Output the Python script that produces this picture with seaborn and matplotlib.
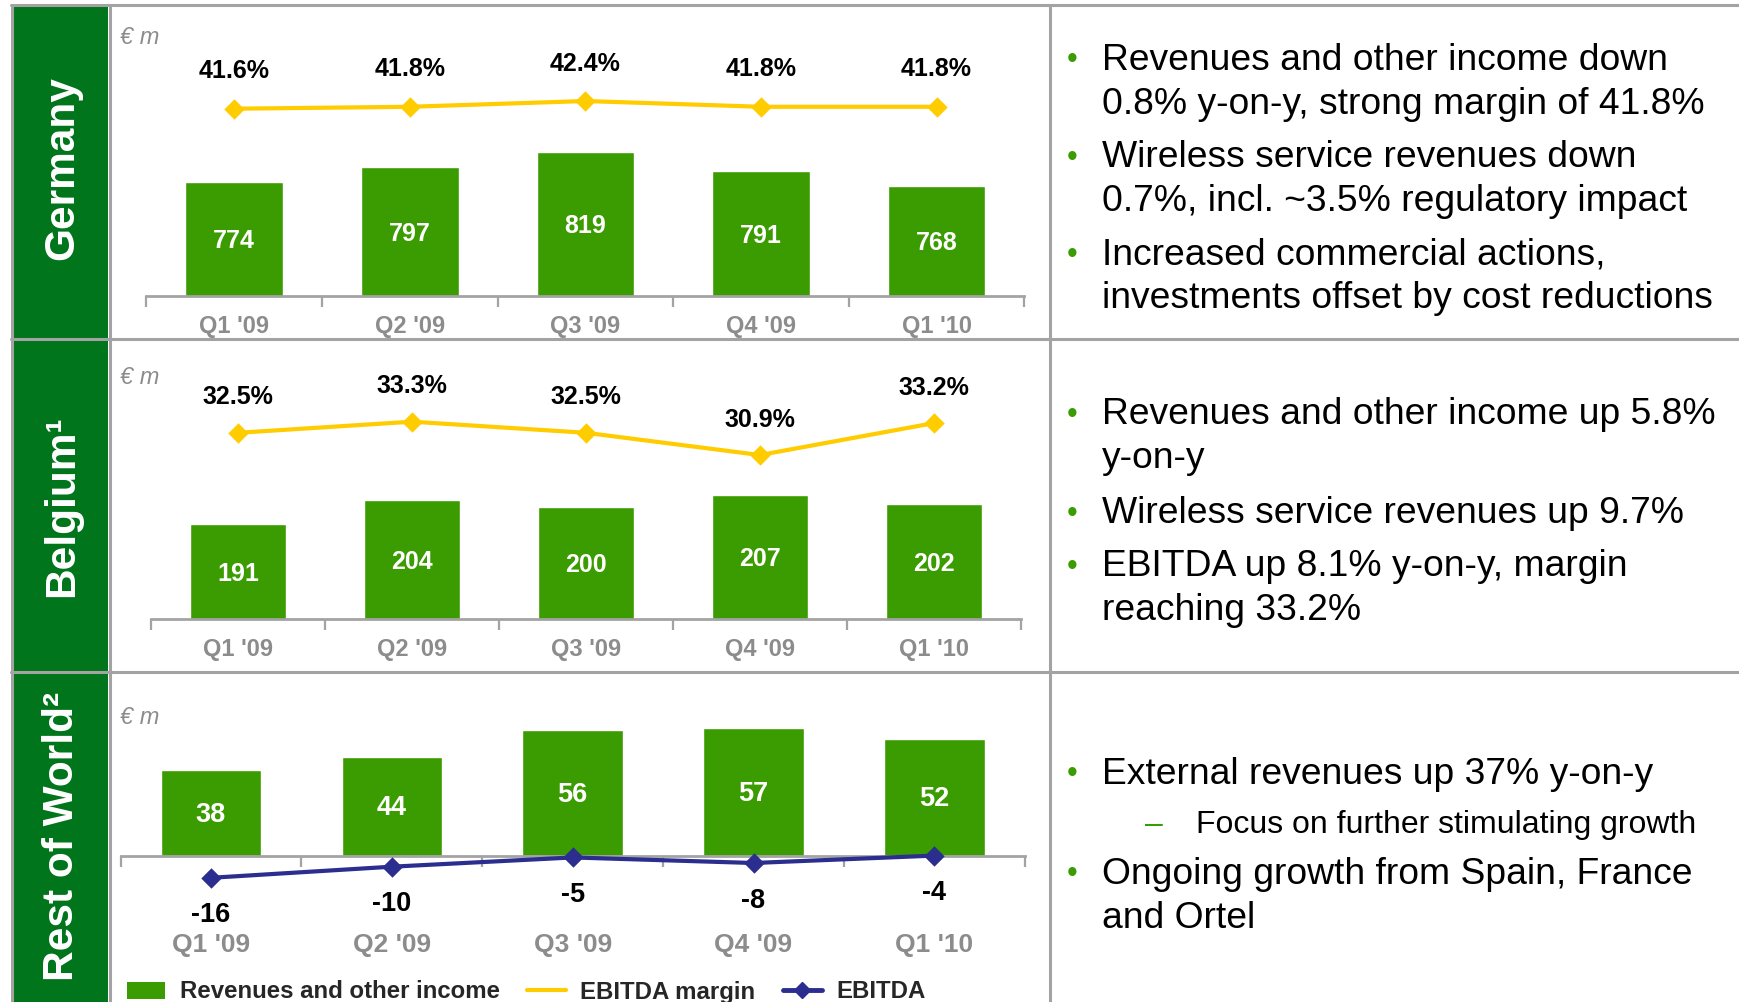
import numpy as np
import matplotlib
matplotlib.use("Agg")
import matplotlib.pyplot as plt
from matplotlib.lines import Line2D
from matplotlib.patches import Patch, Rectangle
import seaborn as sns

# ---- data -------------------------------------------------------------
quarters = ["Q1 '09", "Q2 '09", "Q3 '09", "Q4 '09", "Q1 '10"]

germany_revenue = [774, 797, 819, 791, 768]
germany_margin = [41.6, 41.8, 42.4, 41.8, 41.8]

belgium_revenue = [191, 204, 200, 207, 202]
belgium_margin = [32.5, 33.3, 32.5, 30.9, 33.2]

row_revenue = [38, 44, 56, 57, 52]
row_ebitda = [-16, -10, -5, -8, -4]

region_labels = ["Germany", "Belgium\u00b9", "Rest of World\u00b2"]
legend_labels = ["Revenues and other income", "EBITDA margin", "EBITDA"]
unit_label = "\u20ac m"

germany_notes = [
    "Revenues and other income down\n0.8% y-on-y, strong margin of 41.8%",
    "Wireless service revenues down\n0.7%, incl. ~3.5% regulatory impact",
    "Increased commercial actions,\ninvestments offset by cost reductions",
]
belgium_notes = [
    "Revenues and other income up 5.8%\ny-on-y",
    "Wireless service revenues up 9.7%",
    "EBITDA up 8.1% y-on-y, margin\nreaching 33.2%",
]
row_notes = [
    "External revenues up 37% y-on-y",
    "Ongoing growth from Spain, France\nand Ortel",
]
row_subnote = "Focus on further stimulating growth"

# ---- style ------------------------------------------------------------
DARK_GREEN = "#00751B"
BAR_GREEN = "#3A9C00"
YELLOW = "#FFCC00"
NAVY = "#2B2E8F"
TICK_GRAY = "#8C8C8C"
BORDER = "#A3A3A3"

W, H = 1740, 1002

sns.set_style("white")
plt.rcParams["font.family"] = ["Liberation Sans", "DejaVu Sans"]


def fx(px):
    return px / W


def fy(py):
    return 1 - py / H


def place_axes(fig, left, right, top, bottom):
    return fig.add_axes([fx(left), fy(bottom), (right - left) / W, (bottom - top) / H])


def span(ref_val, ref_px, px_per_unit, top, bottom):
    """y-limits so that ref_val sits at pixel row ref_px."""
    return (ref_val - (bottom - ref_px) / px_per_unit,
            ref_val + (ref_px - top) / px_per_unit)


def draw_chart(fig, box, revenue, bar_base, bar_scale, line_vals, line_ref,
               line_scale, line_color, fmt, label_off, tick_pad, fs_val, fs_tick):
    left, right, top, bottom = box
    ax = place_axes(fig, left, right, top, bottom)
    sns.barplot(x=quarters, y=revenue, color=BAR_GREEN, saturation=1,
                width=0.556, errorbar=None, ax=ax)
    ax.set_ylim(*span(bar_base, bottom, bar_scale, top, bottom))
    for i, v in enumerate(revenue):
        ax.annotate(f"{v}", xy=(i, (v + bar_base) / 2), xytext=(0, -1.5),
                    textcoords="offset points", ha="center", va="center",
                    color="white", fontsize=fs_val, fontweight="bold")

    ax2 = ax.twinx()
    sns.pointplot(x=quarters, y=line_vals, color=line_color, markers="D",
                  linestyles="-", markersize=8, linewidth=3,
                  errorbar=None, ax=ax2)
    ax2.set_ylim(*span(line_ref[0], line_ref[1], line_scale, top, bottom))
    for art in ax2.lines + ax2.collections:
        art.set_clip_on(False)
    for i, v in enumerate(line_vals):
        ax2.annotate(fmt.format(v), xy=(i, v), xytext=(0, label_off),
                     textcoords="offset points", ha="center", va="center",
                     fontsize=fs_val, fontweight="bold", color="black",
                     annotation_clip=False)

    ax.set_xlim(-0.5, 4.5)
    ax.set_xticks(np.arange(-0.5, 5.0, 1.0), labels=[""] * 6)
    ax.set_xticks(range(5), labels=quarters, minor=True)
    ax.tick_params(axis="x", which="major", length=8, width=1.6,
                   color=BORDER, direction="out", bottom=True)
    ax.tick_params(axis="x", which="minor", length=0, pad=tick_pad,
                   labelsize=fs_tick, labelcolor=TICK_GRAY)
    for t in ax.get_xticklabels(minor=True):
        t.set_fontweight("bold")
    ax.set_yticks([])
    ax2.set_yticks([])
    ax.set_xlabel("")
    ax.set_ylabel("")
    ax2.set_ylabel("")
    sns.despine(ax=ax, left=True)
    ax.spines["bottom"].set_color(BORDER)
    ax.spines["bottom"].set_linewidth(2)
    for s in ax2.spines.values():
        s.set_visible(False)
    return ax


fig = plt.figure(figsize=(W / 100, H / 100), dpi=100)

# frame and green label column
rows = [(6, 337.5), (340.5, 670.5), (673.5, 1002)]
label_y = [168, 506, 836]
for (y0, y1), label, ly in zip(rows, region_labels, label_y):
    fig.add_artist(Rectangle((fx(13.5), fy(y1)), (108.5 - 13.5) / W, (y1 - y0) / H,
                             transform=fig.transFigure, color=DARK_GREEN, lw=0))
    fig.text(fx(62), fy(ly), label, rotation=90, ha="center", va="center",
             color="white", fontsize=30.5, fontweight="bold")

for y in [5, 339, 672]:
    fig.add_artist(Line2D([fx(11), 1], [fy(y), fy(y)], transform=fig.transFigure,
                          color=BORDER, lw=2.2))
for x in [12, 110, 1050]:
    fig.add_artist(Line2D([fx(x), fx(x)], [fy(5), 0], transform=fig.transFigure,
                          color=BORDER, lw=2.2))

# charts
draw_chart(fig, (146.5, 1024.3, 40, 296.3), germany_revenue, 603, 0.667,
           germany_margin, (41.6, 108.7), 9.6, YELLOW, "{:.1f}%", 27,
           13.5, 18, 17)
draw_chart(fig, (151, 1021, 360, 619.2), belgium_revenue, 138, 1.803,
           belgium_margin, (32.5, 432.8), 13.9, YELLOW, "{:.1f}%", 25.5,
           13.5, 18, 17)
draw_chart(fig, (120.5, 1024.8, 700, 855.6), row_revenue, 0, 2.24,
           row_ebitda, (-4, 855.6), 1.85, NAVY, "{:d}", -27,
           56, 19.5, 19)

for y in [37, 377, 718]:
    fig.text(fx(120), fy(y), unit_label, ha="left", va="center", color=TICK_GRAY,
             fontsize=17, style="italic")

# legend
handles = [
    Patch(facecolor=BAR_GREEN, edgecolor="none"),
    Line2D([], [], color=YELLOW, lw=3),
    Line2D([], [], color=NAVY, lw=3.5, marker="D", markersize=8),
]
fig.legend(handles, legend_labels, loc="center left",
           bbox_to_anchor=(fx(127), fy(992)), ncol=3, frameon=False,
           prop={"size": 17.3, "weight": "bold"}, handlelength=1.6,
           handletextpad=0.6, columnspacing=1.15, borderpad=0,
           borderaxespad=0)

# commentary
NOTE_FS = 26.8
LINE_GAP = 44


def write_notes(notes, starts):
    for text, y0 in zip(notes, starts):
        fig.text(fx(1072), fy(y0), "\u2022", ha="center", va="center",
                 color=BAR_GREEN, fontsize=22)
        for j, line in enumerate(text.split("\n")):
            fig.text(fx(1102), fy(y0 + j * LINE_GAP), line, ha="left",
                     va="center", color="black", fontsize=NOTE_FS)


write_notes(germany_notes, [60, 157.5, 255])
write_notes(belgium_notes, [415, 513.5, 567])
write_notes(row_notes, [774.5, 874.5])
fig.text(fx(1154), fy(824.5), "\u2013", ha="center", va="center",
         color=BAR_GREEN, fontsize=23)
fig.text(fx(1196), fy(824.5), row_subnote, ha="left", va="center",
         color="black", fontsize=23)

fig.savefig("out.png", dpi=100)
plt.close(fig)
